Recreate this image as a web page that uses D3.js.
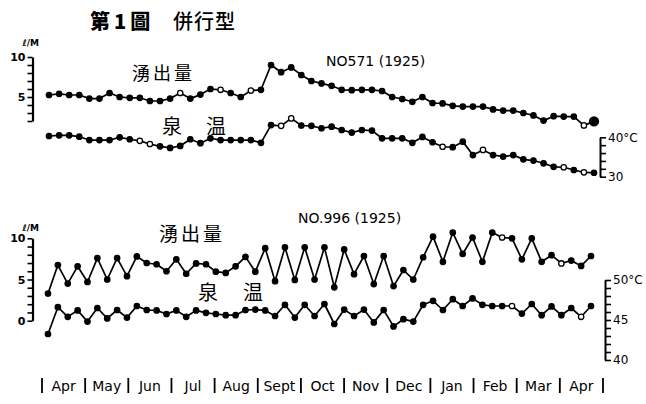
<!DOCTYPE html>
<html><head><meta charset="utf-8">
<script src="https://cdn.jsdelivr.net/npm/d3@7"></script>
<style>
html,body{margin:0;padding:0;background:#fff;}
svg{display:block;}
text{fill:#000;}
</style></head>
<body>
<script>
// ---------- DATA ----------
const months = ["Apr","May","Jun","Jul","Aug","Sept","Oct","Nov","Dec","Jan","Feb","Mar","Apr"];

// No.571 (1925) — discharge (l/min) and spring temperature (°C)
const no571Discharge = [5.25,5.4,5.25,5.25,4.8,4.8,5.5,5.0,4.9,4.9,
  4.5,4.5,4.8,5.5,4.8,5.3,6.0,5.9,5.5,5.0,
  5.8,5.9,9.0,8.1,8.7,7.75,7.0,6.7,6.4,5.9,
  5.85,5.9,5.9,5.75,5.0,4.75,4.4,5.0,4.25,4.2,
  3.9,3.8,3.8,3.8,3.45,3.3,3.3,3.0,2.7,2.05,
  2.6,2.55,2.55,1.45,1.95];
const no571Temp = [40.33,40.5,40.5,40.15,39.3,39.3,39.3,40.0,39.5,39.1,
  38.3,37.7,37.3,37.8,39.5,38.5,39.75,39.3,39.3,39.3,
  39.3,38.6,43.1,42.9,44.8,43.0,42.9,42.3,42.7,41.85,
  41.2,41.85,41.7,39.75,39.75,39.75,38.6,40.1,38.75,37.6,
  37.5,38.9,35.5,36.8,35.5,35.1,35.5,34.4,34.1,33.4,
  32.5,32.4,31.7,31.1,31.0];
const no571DischargeOpen = [13,17,20,53];
const no571TempOpen = [9,10,23,24,39,43,51,53];

// No.996 (1925)
const no996Discharge = [3.3,6.75,4.5,6.6,4.7,7.6,5.0,7.6,5.4,7.8,
  7.0,6.85,6.0,7.45,5.7,6.95,6.85,5.95,5.8,6.6,
  7.75,5.95,8.8,4.8,8.9,4.95,8.9,5.0,8.9,4.05,
  8.65,5.65,7.85,4.45,7.85,4.2,6.15,5.0,7.7,10.2,
  7.15,10.7,8.1,10.1,7.15,10.7,10.1,10.0,7.45,10.0,
  7.15,7.95,6.95,7.3,6.65,7.85];
const no996Temp = [43.25,46.6,45.4,46.2,44.8,46.5,45.2,46.25,45.3,46.75,
  46.25,46.2,45.75,46.2,45.4,46.2,45.9,45.75,45.6,45.6,
  46.25,46.3,46.2,45.5,46.9,45.3,46.9,45.5,47.0,44.5,
  46.3,45.5,46.3,44.7,46.25,44.2,45.1,44.8,46.9,47.4,
  46.25,47.6,46.75,47.7,46.9,46.75,46.75,46.75,45.8,47.0,
  45.6,46.7,45.6,46.5,45.4,46.75];
const no996DischargeOpen = [46,52];
const no996TempOpen = [47,54];

const leftTicksTop = [2,3,4,5,6,7,8,9,10];
const leftLabelsTop = [5,10];
const rightTicksTop = [30,32,34,36,38,40];
const leftTicksBot = [0,1,2,3,4,5,6,7,8,9,10];
const leftLabelsBot = [0,5,10];
const rightTicksBot = [40,41,42,43,44,45,46,47,48,49,50];
const rightLabelsBot = [40,45,50];

// ---------- DRAW ----------
const W = 646, H = 404;
const svg = d3.select("body").append("svg").attr("width", W).attr("height", H);
const cjk = "'Noto Sans CJK TC','Noto Sans CJK JP',sans-serif";
const hand = "'DejaVu Sans','Liberation Sans',sans-serif";

// Title
svg.append("text").attr("x", 90).attr("y", 29).attr("font-family", cjk)
  .attr("font-weight", 900).attr("font-size", 20).attr("letter-spacing", 4).text("第1圖");
svg.append("text").attr("x", 173).attr("y", 29).attr("font-family", cjk)
  .attr("font-weight", 500).attr("font-size", 20).attr("letter-spacing", 1).text("併行型");

function drawSeries(g, x, y, values, openIdx, lastBig) {
  const line = d3.line().x((d, i) => x(i)).y(d => y(d));
  g.append("path").datum(values).attr("d", line)
    .attr("fill", "none").attr("stroke", "#000").attr("stroke-width", 1.7)
    .attr("stroke-linejoin", "round");
  g.selectAll(null).data(values).join("circle")
    .attr("cx", (d, i) => x(i)).attr("cy", d => y(d))
    .attr("r", (d, i) => (lastBig && i === values.length - 1) ? 4.5 : 2.7)
    .attr("fill", (d, i) => openIdx.includes(i) ? "#fff" : "#000")
    .attr("stroke", "#000").attr("stroke-width", 1.3);
}

function leftAxis(y, ticks, labels, xPos, unitY) {
  const ax = d3.axisLeft(y).tickValues(ticks).tickSize(5).tickSizeOuter(0)
    .tickFormat(d => labels.includes(d) ? d : "");
  const g = svg.append("g").attr("transform", `translate(${xPos},0)`).call(ax);
  g.select(".domain").attr("stroke-width", 2.2);
  g.selectAll(".tick line").attr("stroke-width", 1.6);
  g.selectAll(".tick text").attr("font-family", hand).attr("font-weight", "bold")
    .attr("font-size", 11).attr("x", -7);
  svg.append("text").attr("x", xPos - 10).attr("y", unitY).attr("font-family", hand)
    .attr("font-weight", "bold").attr("font-size", 9).text("ℓ/M");
}

function rightAxis(y, ticks, labels, xPos, fmt) {
  const ax = d3.axisRight(y).tickValues(ticks).tickSize(6).tickSizeOuter(0)
    .tickFormat(d => labels.includes(d) ? fmt(d) : "");
  const g = svg.append("g").attr("transform", `translate(${xPos},0)`).call(ax);
  g.select(".domain").attr("stroke-width", 2);
  g.selectAll(".tick line").attr("stroke-width", 1.6);
  g.selectAll(".tick text").attr("font-family", hand)
    .attr("font-size", 12).attr("x", 8);
}

// ---- Top panel: No.571 ----
const xTop = d3.scaleLinear().domain([0, no571Discharge.length - 1]).range([49, 594]);
const yTopQ = d3.scaleLinear().domain([2, 10]).range([121, 57]);
const yTopT = d3.scaleLinear().domain([30, 40]).range([176.7, 137.3]);
leftAxis(yTopQ, leftTicksTop, leftLabelsTop, 32.5, 46);
rightAxis(yTopT, rightTicksTop, [30, 40], 600, d => d === 40 ? "40°C" : String(d));
const gTop = svg.append("g");
drawSeries(gTop, xTop, yTopQ, no571Discharge, no571DischargeOpen, true);
drawSeries(gTop, xTop, yTopT, no571Temp, no571TempOpen, false);

svg.append("text").attr("x", 132).attr("y", 80).attr("font-family", cjk)
  .attr("font-size", 18).attr("letter-spacing", 3).text("湧出量");
svg.append("text").attr("x", 162).attr("y", 134).attr("font-family", cjk)
  .attr("font-size", 20).text("泉");
svg.append("text").attr("x", 206).attr("y", 134).attr("font-family", cjk)
  .attr("font-size", 20).text("温");
svg.append("text").attr("x", 326).attr("y", 66).attr("font-family", hand)
  .attr("font-size", 14).text("NO571 (1925)");

// ---- Bottom panel: No.996 ----
const xBot = d3.scaleLinear().domain([0, no996Discharge.length - 1]).range([48, 591]);
const yBotQ = d3.scaleLinear().domain([0, 10]).range([320.7, 238.3]);
const yBotT = d3.scaleLinear().domain([40, 50]).range([360, 280]);
leftAxis(yBotQ, leftTicksBot, leftLabelsBot, 32.5, 231);
rightAxis(yBotT, rightTicksBot, rightLabelsBot, 605, d => d === 50 ? "50°C" : String(d));
const gBot = svg.append("g");
drawSeries(gBot, xBot, yBotQ, no996Discharge, no996DischargeOpen, false);
drawSeries(gBot, xBot, yBotT, no996Temp, no996TempOpen, false);

svg.append("text").attr("x", 159).attr("y", 241).attr("font-family", cjk)
  .attr("font-size", 19).attr("letter-spacing", 3).text("湧出量");
svg.append("text").attr("x", 198).attr("y", 300).attr("font-family", cjk)
  .attr("font-size", 20).text("泉");
svg.append("text").attr("x", 243).attr("y", 300).attr("font-family", cjk)
  .attr("font-size", 20).text("温");
svg.append("text").attr("x", 298).attr("y", 223).attr("font-family", hand)
  .attr("font-size", 14).text("NO.996 (1925)");

// ---- Month axis ----
const xMonth = d3.scaleBand().domain(d3.range(months.length)).range([42, 603]);
const gm = svg.append("g");
const seps = d3.range(months.length + 1);
gm.selectAll("line").data(seps).join("line")
  .attr("x1", i => i < months.length ? xMonth(i) : xMonth.range()[1])
  .attr("x2", i => i < months.length ? xMonth(i) : xMonth.range()[1])
  .attr("y1", 378).attr("y2", 393).attr("stroke", "#000").attr("stroke-width", 1.8);
gm.selectAll("text").data(months).join("text")
  .attr("x", (d, i) => xMonth(i) + xMonth.bandwidth() / 2).attr("y", 391)
  .attr("text-anchor", "middle").attr("font-family", hand).attr("font-size", 14)
  .text(d => d);
</script>
</body></html>
